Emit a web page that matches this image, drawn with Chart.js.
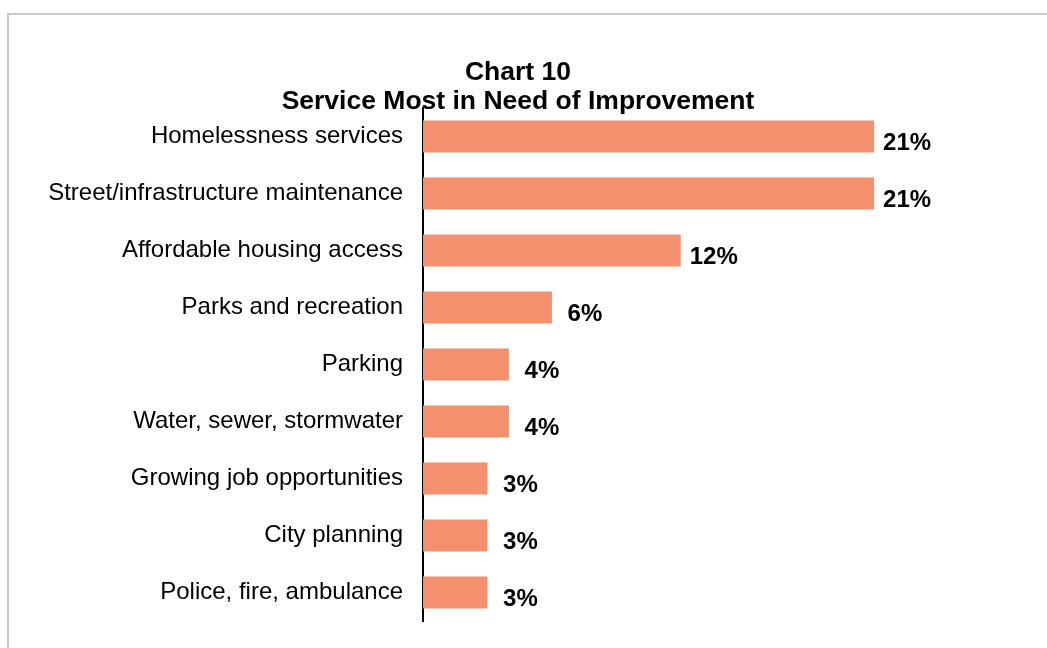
<!DOCTYPE html>
<html>
<head>
<meta charset="utf-8">
<script src="https://cdn.jsdelivr.net/npm/chart.js@4"></script>
<style>
  html, body { margin: 0; padding: 0; background: #fff; }
  #wrap { position: relative; width: 1047px; height: 648px; overflow: hidden; }
  #frame { position: absolute; left: 7px; top: 13px; width: 1100px; height: 700px;
           border-top: 2px solid #c3cbd0; border-left: 2px solid #c3cbd0; }
  canvas { position: absolute; left: 0; top: 0; }
</style>
</head>
<body>
<div id="wrap">
  <div id="frame"></div>
  <canvas id="c" width="1047" height="648"></canvas>
</div>
<script>
const titleLines = ["Chart 10", "Service Most in Need of Improvement"];
const categories = [
  "Homelessness services",
  "Street/infrastructure maintenance",
  "Affordable housing access",
  "Parks and recreation",
  "Parking",
  "Water, sewer, stormwater",
  "Growing job opportunities",
  "City planning",
  "Police, fire, ambulance"
];
const values = [21, 21, 12, 6, 4, 4, 3, 3, 3];

const FONT = "'Liberation Sans', Arial, Helvetica, sans-serif";

const titlePlugin = {
  id: 'twoLineTitle',
  afterDraw(chart) {
    const ctx = chart.ctx;
    ctx.save();
    ctx.fillStyle = '#000';
    ctx.font = 'bold 26.5px ' + FONT;
    ctx.textAlign = 'center';
    ctx.textBaseline = 'alphabetic';
    ctx.fillText(titleLines[0], 518, 80);
    ctx.fillText(titleLines[1], 518, 109);
    ctx.restore();
  }
};

const valueLabels = {
  id: 'valueLabels',
  afterDatasetsDraw(chart) {
    const ctx = chart.ctx;
    const meta = chart.getDatasetMeta(0);
    ctx.save();
    ctx.fillStyle = '#000';
    ctx.font = 'bold 24px ' + FONT;
    ctx.textAlign = 'center';
    ctx.textBaseline = 'middle';
    meta.data.forEach((bar, i) => {
      ctx.fillText(values[i] + '%', bar.x + 33, bar.y + 7);
    });
    ctx.restore();
  }
};

new Chart(document.getElementById('c'), {
  type: 'bar',
  data: {
    labels: categories,
    datasets: [{
      data: values,
      backgroundColor: '#f5906f',
      borderWidth: 0,
      barPercentage: 0.565,
      categoryPercentage: 1.0
    }]
  },
  options: {
    indexAxis: 'y',
    responsive: false,
    animation: false,
    layout: { padding: { left: 0, right: 87, top: 108, bottom: 27 } },
    plugins: {
      legend: { display: false },
      title: { display: false },
      tooltip: { enabled: false }
    },
    scales: {
      x: { display: false, min: 0, max: 25 },
      y: {
        grid: { display: false, drawTicks: false },
        border: { display: true, color: '#000', width: 2 },
        ticks: {
          color: '#000',
          padding: 20,
          font: { family: FONT, size: 24 }
        },
        afterFit(scale) {
          scale.width = 423;
          scale.paddingTop = 0;
          scale.paddingBottom = 0;
        }
      }
    }
  },
  plugins: [titlePlugin, valueLabels]
});
</script>
</body>
</html>
